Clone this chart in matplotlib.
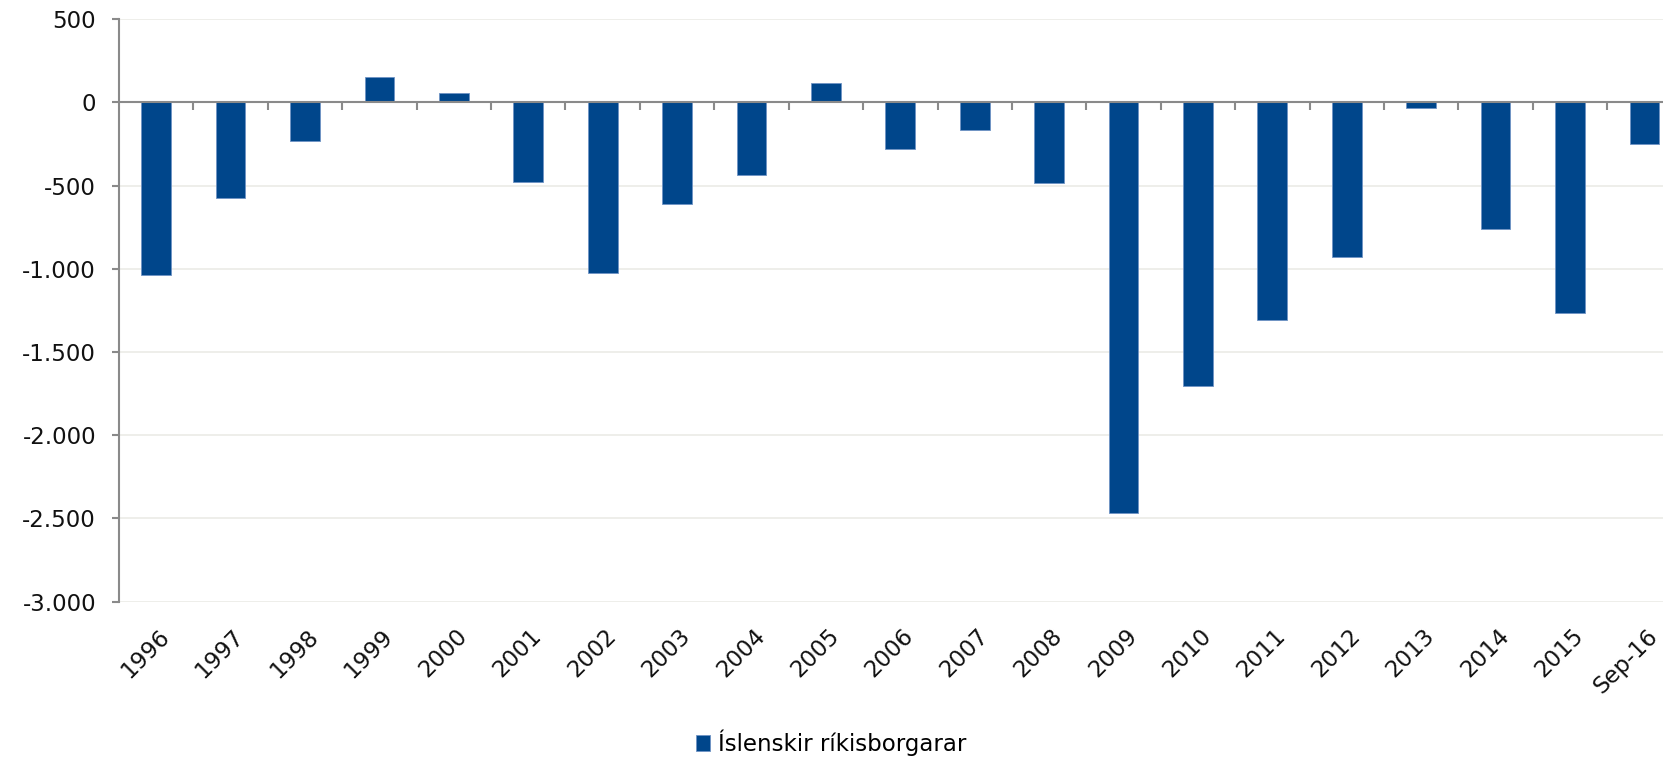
import matplotlib
matplotlib.use("Agg")
import matplotlib.pyplot as plt
from matplotlib.ticker import FuncFormatter, FixedLocator
from matplotlib.transforms import ScaledTranslation
import numpy as np

categories = ["1996", "1997", "1998", "1999", "2000", "2001", "2002", "2003",
              "2004", "2005", "2006", "2007", "2008", "2009", "2010", "2011",
              "2012", "2013", "2014", "2015", "Sep-16"]
values = [-1036, -572, -235, 155, 57, -476, -1023, -610, -438, 114, -280,
          -167, -483, -2465, -1703, -1309, -930, -33, -760, -1264, -248]
series_name = "Íslenskir ríkisborgarar"
y_ticks = [500, 0, -500, -1000, -1500, -2000, -2500, -3000]

BAR = "#00468b"
GRID = "#ebebe6"
AXC = "#8a8a8a"
FS = 16.5

plt.rcParams['font.family'] = ['DejaVu Sans']

W, H = 1663, 760
fig = plt.figure(figsize=(W / 100, H / 100), dpi=100)
left, right, top, bottom = 119, 1681.6, 19.1, 601.7
ax = fig.add_axes([left / W, 1 - bottom / H, (right - left) / W, (bottom - top) / H])

x = np.arange(len(categories))
ax.bar(x, values, width=0.4, color=BAR, edgecolor="#6f93c4", linewidth=0.6,
       zorder=3, label=series_name)

ax.set_xlim(-0.5, len(categories) - 0.5)
ax.set_ylim(min(y_ticks), max(y_ticks))
ax.yaxis.set_major_locator(FixedLocator(y_ticks))
ax.yaxis.set_major_formatter(FuncFormatter(lambda v, p: f"{v:,.0f}".replace(",", ".")))
ax.grid(axis="y", color=GRID, linewidth=1.2, zorder=0)
ax.set_axisbelow(True)

for s in ["top", "right", "bottom"]:
    ax.spines[s].set_visible(False)
ax.spines["left"].set_color(AXC)
ax.spines["left"].set_linewidth(1.5)
ax.spines["left"].set_zorder(4)

ax.tick_params(axis="y", direction="out", length=5, width=1.5, color=AXC,
               labelsize=FS, labelcolor="#111111", pad=11.5)

# x labels at bottom
ax.set_xticks(x)
ax.set_xticklabels(categories)
ax.tick_params(axis="x", length=0, labelsize=FS, labelcolor="#111111", pad=22.3)
offset = ScaledTranslation(10 / 100, 0, fig.dpi_scale_trans)
for lab in ax.get_xticklabels():
    lab.set_rotation(45)
    lab.set_ha("right")
    lab.set_va("center")
    lab.set_rotation_mode("anchor")
    lab.set_transform(lab.get_transform() + offset)

# zero line with tick marks at category boundaries
ax.axhline(0, color=AXC, linewidth=1.5, zorder=4)
ymin, ymax = ax.get_ylim()
zero_frac = (0 - ymin) / (ymax - ymin)
sec = ax.secondary_xaxis(zero_frac)
sec.set_xticks(np.arange(len(categories)) + 0.5)
sec.set_xticklabels([])
sec.spines["bottom"].set_visible(False)
sec.spines["top"].set_visible(False)
sec.tick_params(axis="x", direction="out", length=6, width=1.5, color=AXC,
                bottom=True, top=False, labelbottom=False)

fig.legend(loc="center", bbox_to_anchor=(0.5, 1 - 743 / H), frameon=False,
           fontsize=FS, handlelength=0.62, handleheight=0.66, handletextpad=0.35,
           borderaxespad=0)

fig.savefig("out.png", dpi=100)
